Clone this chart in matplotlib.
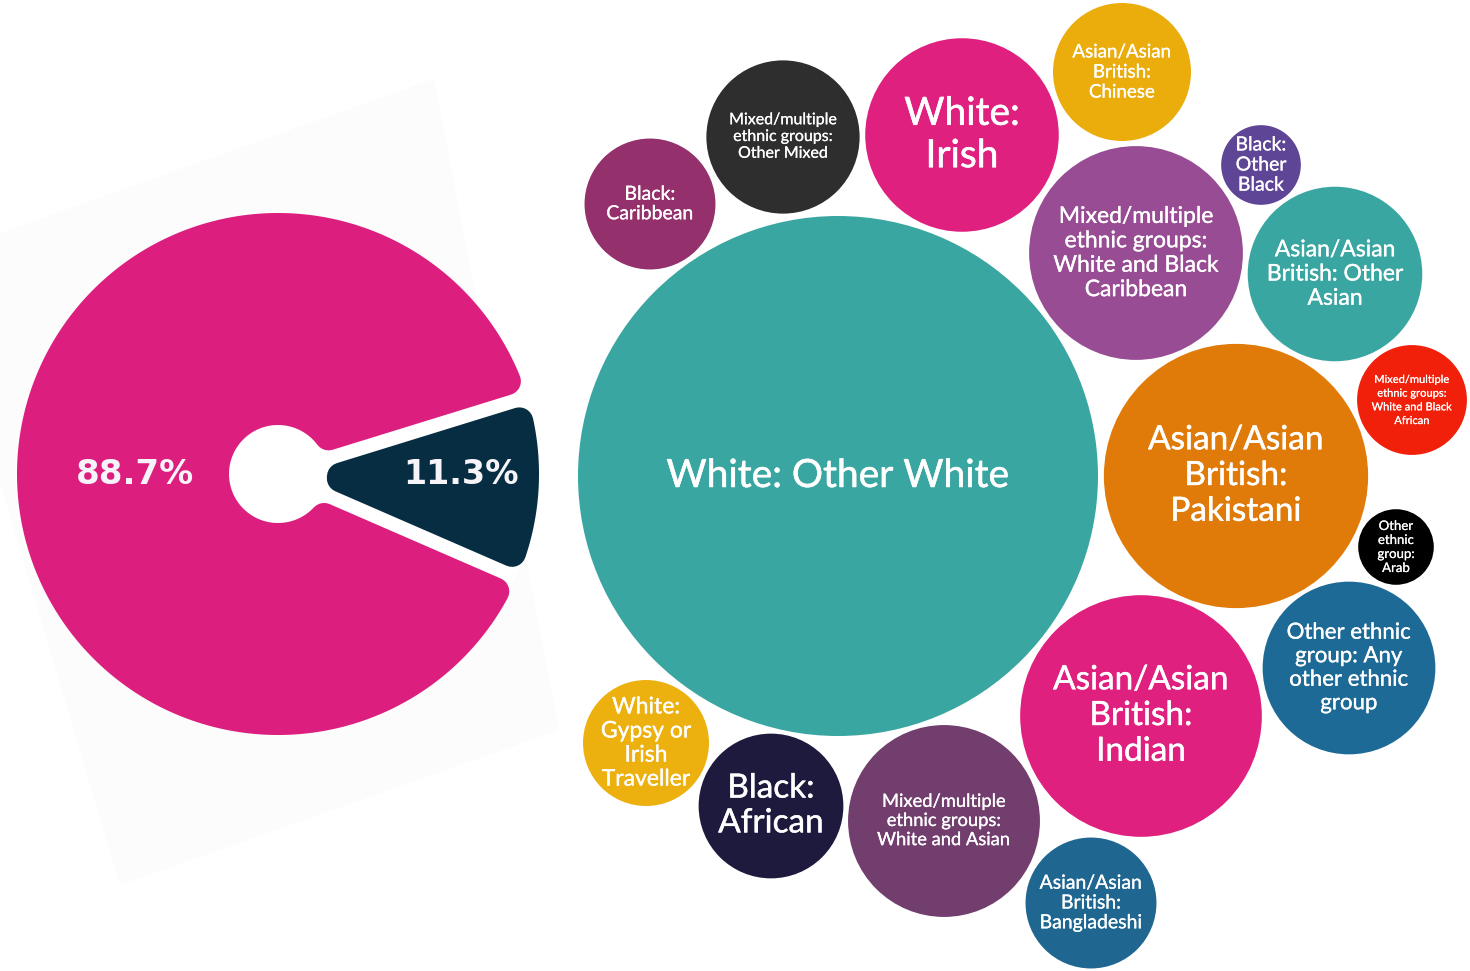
import numpy as np
import matplotlib
matplotlib.use("Agg")
import matplotlib.pyplot as plt
import matplotlib.patheffects as pe
from matplotlib.patches import Circle, Polygon

# ---------------- data ----------------
pie_labels = ["11.3%", "88.7%"]
pie_values = [11.3, 88.7]
pie_colors = ["#072d42", "#dc1e7f"]

bubble_labels = [
    "White: Other White",
    "White:\nIrish",
    "Asian/Asian\nBritish:\nChinese",
    "Mixed/multiple\nethnic groups:\nOther Mixed",
    "Black:\nCaribbean",
    "Black:\nOther\nBlack",
    "Mixed/multiple\nethnic groups:\nWhite and Black\nCaribbean",
    "Asian/Asian\nBritish: Other\nAsian",
    "Mixed/multiple\nethnic groups:\nWhite and Black\nAfrican",
    "Asian/Asian\nBritish:\nPakistani",
    "Other\nethnic\ngroup:\nArab",
    "Other ethnic\ngroup: Any\nother ethnic\ngroup",
    "Asian/Asian\nBritish:\nIndian",
    "Asian/Asian\nBritish:\nBangladeshi",
    "Mixed/multiple\nethnic groups:\nWhite and Asian",
    "Black:\nAfrican",
    "White:\nGypsy or\nIrish\nTraveller",
]
bubble_values = [4.26, 0.59, 0.30, 0.37, 0.27, 0.10, 0.72, 0.48, 0.19,
                 1.10, 0.09, 0.47, 0.92, 0.27, 0.58, 0.33, 0.25]

# ---------------- layout / style ----------------
bubble_colors = ["#3aa6a2", "#e0207f", "#ebad0c", "#2e2e2e", "#94306b",
                 "#5e4596", "#984c93", "#3aa6a2", "#f0200b", "#e07b0a",
                 "#000000", "#1d6a96", "#e0207f", "#1f6791", "#713e6e",
                 "#1e1a3d", "#ecb10f"]
bubble_x = [838, 962, 1122, 783, 650, 1261, 1136, 1335, 1412, 1236,
            1396, 1349, 1141, 1091, 944, 771, 646]
bubble_y = [476, 135, 72, 137, 204, 165, 253, 274, 400, 476,
            547, 668, 716, 903, 821, 806, 743]
bubble_fs = [28, 28, 13.5, 11.5, 14, 14, 16.5, 16.5, 8, 24,
             9.5, 16, 24, 14, 13.2, 24, 16.5]
bubble_ls = [1.15, 1.22, 1.22, 1.25, 1.18, 1.22, 1.2, 1.19, 1.3, 1.24,
             1.2, 1.22, 1.24, 1.2, 1.24, 1.2, 1.18]
max_radius = 260.0

pie_cx, pie_cy = 278, 474
pie_r_out, pie_r_in = 261, 49
pie_start = -23.5
pad, corner = 7.0, 14.0

W, H = 1470, 971
fig = plt.figure(figsize=(W / 100, H / 100), dpi=100)
ax = fig.add_axes([0, 0, 1, 1])
ax.set_xlim(0, W)
ax.set_ylim(H, 0)
ax.axis("off")

# faint rotated panel behind the pie
ax.add_patch(Polygon([(434, 79), (559, 730), (120, 885), (-67, 257)],
                     closed=True, facecolor="#fcfcfc", edgecolor="none", zorder=0))
# white disc under the pie (hole and gaps are white)
ax.add_patch(Circle((pie_cx, pie_cy), pie_r_out - 2, facecolor="white",
                    edgecolor="none", zorder=1))


def rounded_wedge(t1, t2, color):
    d = pad + corner
    Ro = pie_r_out - corner
    Ri = pie_r_in + corner
    ao = np.degrees(np.arcsin(d / Ro))
    ang = np.radians(np.linspace(t1 + ao, t2 - ao, 300))
    pts = [(Ro * np.cos(a), Ro * np.sin(a)) for a in ang]
    ai = np.degrees(np.arcsin(min(d / Ri, 1.0)))
    if t1 + ai < t2 - ai:
        ang = np.radians(np.linspace(t2 - ai, t1 + ai, 200))
        pts += [(Ri * np.cos(a), Ri * np.sin(a)) for a in ang]
    else:
        half = np.radians((t2 - t1) / 2)
        mid = np.radians((t1 + t2) / 2)
        dist = d / np.sin(half)
        pts.append((dist * np.cos(mid), dist * np.sin(mid)))
    xy = [(pie_cx + x, pie_cy - y) for x, y in pts]
    ax.add_patch(Polygon(xy, closed=True, facecolor=color, edgecolor=color,
                         linewidth=2 * corner * 0.72, joinstyle="round", zorder=2))


total = sum(pie_values)
t = pie_start
for val, col in zip(pie_values, pie_colors):
    span = 360.0 * val / total
    rounded_wedge(t, t + span, col)
    t += span

# pie labels on horizontal axis
ax.text(pie_cx + 183, pie_cy, pie_labels[0], color="#f6f4f8", fontsize=24,
        fontweight="bold", family="DejaVu Sans", ha="center", va="center", zorder=3)
ax.text(pie_cx - 143, pie_cy, pie_labels[1], color="#f6f4f8", fontsize=24.5,
        fontweight="bold", family="DejaVu Sans", ha="center", va="center", zorder=3)

# bubbles
vmax = max(bubble_values)
for lab, v, c, x, y, fs, ls in zip(bubble_labels, bubble_values, bubble_colors,
                                   bubble_x, bubble_y, bubble_fs, bubble_ls):
    r = np.sqrt(v / vmax) * max_radius
    ax.add_patch(Circle((x, y), r, facecolor=c, edgecolor="none", zorder=2))
    ax.text(x, y, lab, color="white", fontsize=fs, family="Lato",
            ha="center", va="center", multialignment="center",
            linespacing=ls, zorder=3,
            path_effects=[pe.withStroke(linewidth=0.013 * fs, foreground="white")])

fig.savefig("out.png", dpi=100, facecolor="white")
